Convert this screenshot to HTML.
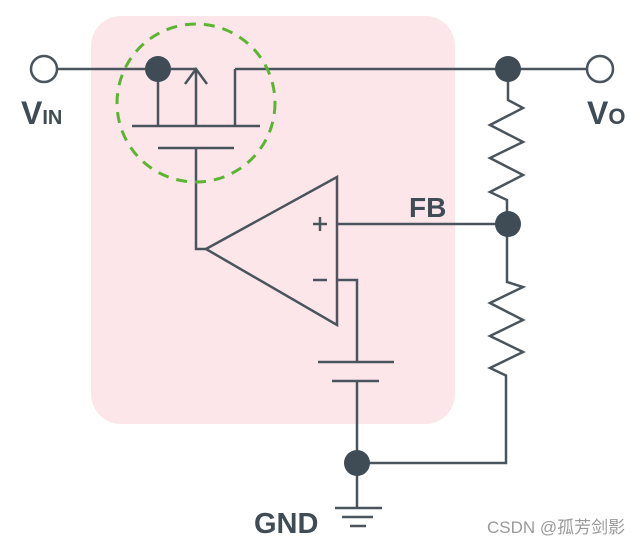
<!DOCTYPE html>
<html><head><style>body{margin:0;background:#fff}svg{display:block}</style></head><body>
<svg width="640" height="546" viewBox="0 0 640 546" xmlns="http://www.w3.org/2000/svg">
<rect x="91" y="16" width="364" height="408" rx="30" fill="#fce6ea"/>
<g stroke="#4a545c" stroke-width="2.5" fill="none">
<path d="M57 69H196M235 69H587"/>
<path d="M158 69V126M196 126V69M185 84L196 69L207 84M235 126V69"/>
<path d="M132 126H260M158 148H234M196 148V249H206"/>
<path d="M206 249L337 177V325Z"/>
<path d="M337 224H508M338 280H357V362M318 362H394M332 381H379M357 381V508"/>
<path d="M357 463H506V376"/>
<path d="M508 69V100L523 108L490 125L523 142L490 158L523 175L490 192L507 200V224"/>
<path d="M507 224V282L523 287L490 303L523 320L490 336L523 352L490 368L507 376"/>
<path d="M335 508H382M342 517H373M350 526H366"/>
<path d="M313 224H327M320 217V231M313 280H327"/>
</g>
<circle cx="196" cy="103" r="79" fill="none" stroke="#5cb531" stroke-width="3" stroke-dasharray="11 8"/>
<g fill="#3f4c55">
<circle cx="158" cy="69" r="13"/><circle cx="508" cy="69" r="13"/><circle cx="508" cy="224" r="13"/><circle cx="357" cy="463" r="13"/>
</g>
<circle cx="44" cy="69" r="13" fill="#fff" stroke="#4a545c" stroke-width="2.5"/>
<circle cx="600" cy="69" r="13" fill="#fff" stroke="#4a545c" stroke-width="2.5"/>
<g font-family="Liberation Sans, sans-serif" font-weight="bold" fill="#3f4c55">
<text x="21" y="124" font-size="32">V<tspan font-size="20">IN</tspan></text>
<text x="587" y="124" font-size="32">V<tspan font-size="22">O</tspan></text>
<text x="409" y="217" font-size="28">FB</text>
<text x="254" y="533" font-size="29">GND</text>
</g>
<text x="487" y="533" font-family="Liberation Sans, Noto Sans CJK SC, sans-serif" font-size="17" fill="#999">CSDN @孤芳剑影</text>
</svg>
</body></html>
